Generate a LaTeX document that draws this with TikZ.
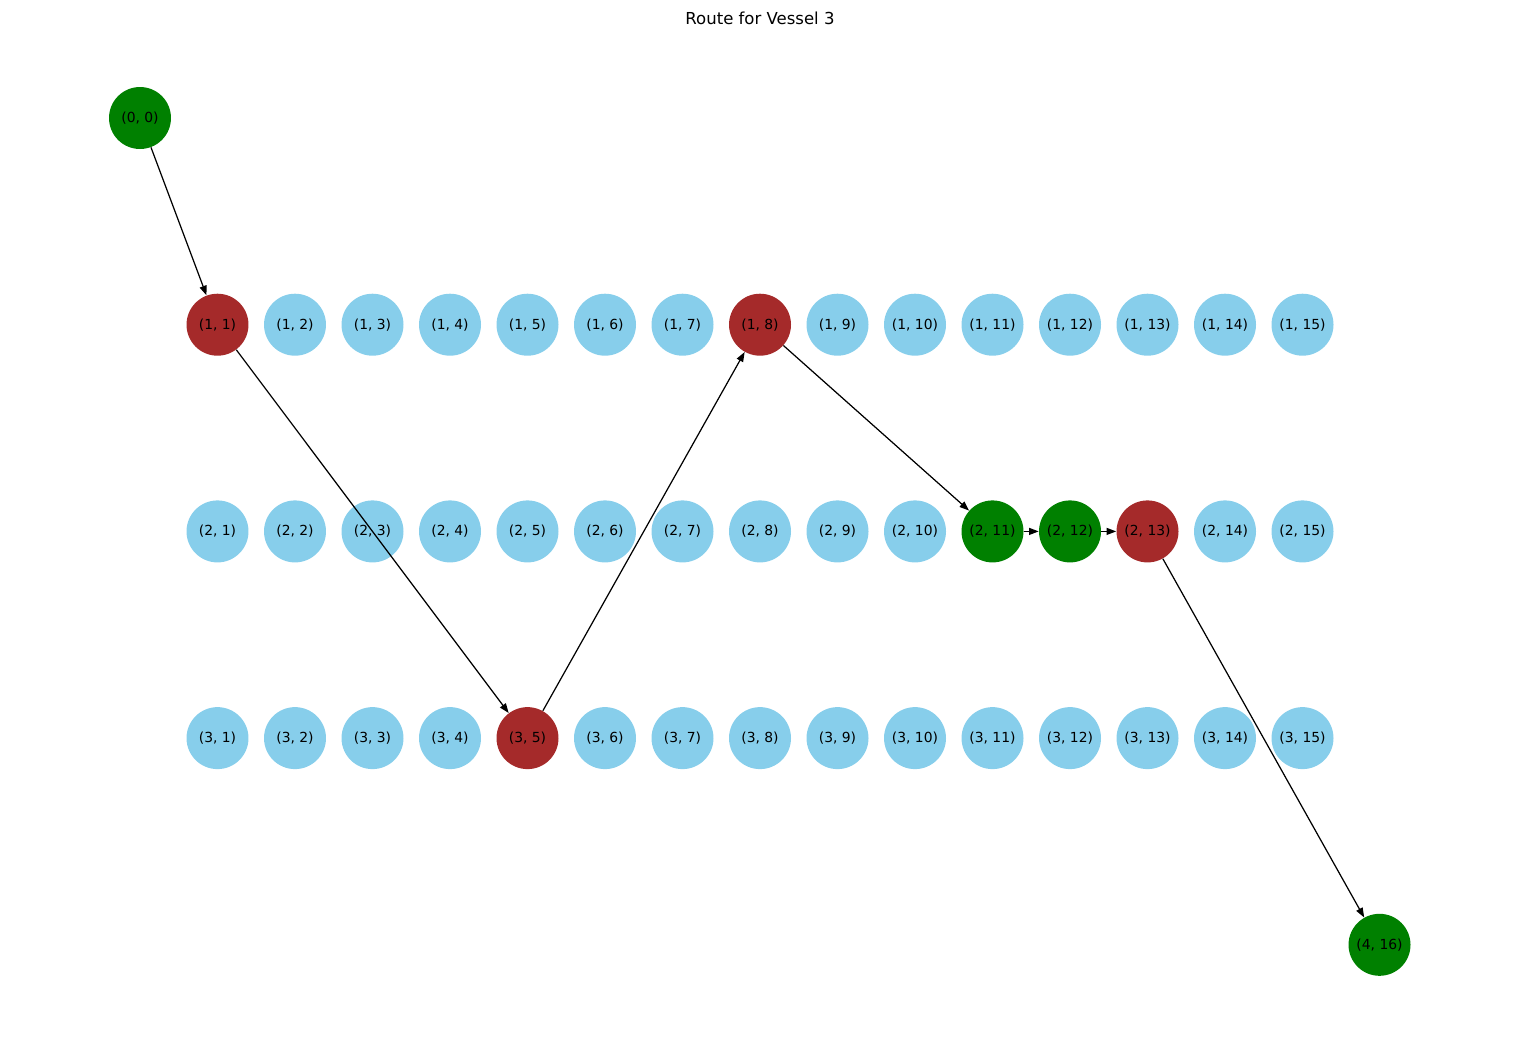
\documentclass[tikz,border=0pt]{standalone}
\usepackage{fontspec}
\setmainfont{DejaVu Sans}
\usetikzlibrary{arrows.meta}
\definecolor{sky}{HTML}{87CEEB}
\definecolor{portgreen}{HTML}{008000}
\definecolor{stopred}{HTML}{A52A2A}
\begin{document}
\begin{tikzpicture}[x=0.02cm, y=-0.02cm,
	every node/.style={ circle, fill=sky, text=black, inner sep=0pt, minimum size=1.24cm, font=\fontsize{7.9}{9}\selectfont },
	port/.style={fill=portgreen}, stop/.style={fill=stopred},
	route/.style={black, line width=0.7pt, -{Triangle[length=5.5pt, width=4pt]}}]
		\useasboundingbox (0,0) rectangle (1520,1042);
		\node[fill=none, minimum size=0pt, font=\fontsize{9.4}{11}\selectfont] (title) at (760,18) {Route for Vessel 3};

		% plain grid
		\foreach \c in {2,3,4,5,6,7,9,10,11,12,13,14,15}
			\node (1-\c) at ({140+77.5*\c}, 324.7) {(1, \c)};
		\foreach \c in {1,2,3,4,5,6,7,8,9,10,14,15}
			\node (2-\c) at ({140+77.5*\c}, 531.4) {(2, \c)};
		\foreach \c in {1,2,3,4,6,7,8,9,10,11,12,13,14,15}
			\node (3-\c) at ({140+77.5*\c}, 738.1) {(3, \c)};

		% route
		\node[port] (0-0) at (140, 118) {(0, 0)};
		\node[stop] (1-1) at (217.5, 324.7) {(1, 1)};
		\node[stop] (1-8) at (760, 324.7) {(1, 8)};
		\node[port] (2-11) at (992.5, 531.4) {(2, 11)};
		\node[port] (2-12) at (1070, 531.4) {(2, 12)};
		\node[stop] (2-13) at (1147.5, 531.4) {(2, 13)};
		\node[stop] (3-5) at (527.5, 738.1) {(3, 5)};
		\node[port] (4-16) at (1379.5, 944.8) {(4, 16)};

		\draw[route] (0-0) -- (1-1);
		\draw[route] (1-1) -- (3-5);
		\draw[route] (3-5) -- (1-8);
		\draw[route] (1-8) -- (2-11);
		\draw[route] (2-11) -- (2-12);
		\draw[route] (2-12) -- (2-13);
		\draw[route] (2-13) -- (4-16);
	\end{tikzpicture}
\end{document}
